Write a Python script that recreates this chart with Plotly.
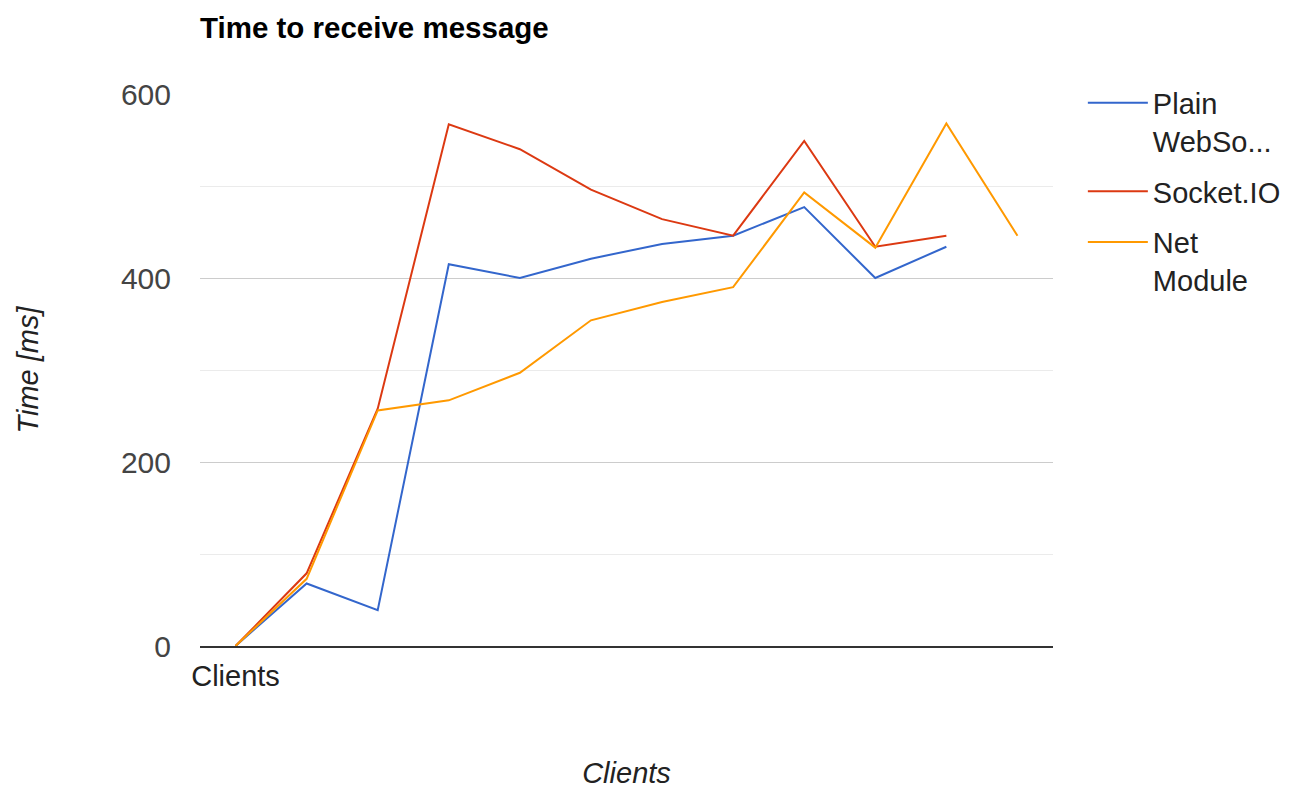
import plotly.graph_objects as go

categories = ["Clients", "", "", "", "", "", "", "", "", "", "", ""]
plain_websocket = [0, 68, 39, 415, 400, 421, 437, 446, 477, 400, 434, None]
socket_io = [0, 79, 258, 567, 540, 496, 464, 446, 549, 434, 446, None]
net_module = [0, 73, 256, 267, 297, 354, 374, 390, 493, 433, 568, 446]
series_names = ["Plain<br>WebSo...", "Socket.IO", "Net<br>Module"]
colors = ["#3366cc", "#dc3912", "#ff9900"]

x = list(range(len(categories)))
FONT = "Liberation Sans, Arial, sans-serif"

fig = go.Figure()
for i, (name, vals, col) in enumerate(zip(series_names, [plain_websocket, socket_io, net_module], colors)):
    fig.add_trace(go.Scatter(x=x, y=vals, mode="lines", name=name, legendgroup=f"g{i}",
                             line=dict(color=col, width=2), connectgaps=False))

fig.update_layout(
    width=1300, height=789,
    margin=dict(l=200, r=247, t=94, b=143, autoexpand=False),
    paper_bgcolor="white", plot_bgcolor="white",
    font=dict(family=FONT, size=29, color="#444"),
    title=dict(text="<b>Time to receive message</b>", x=200/1300, xanchor="left",
               y=1-28/789, yanchor="middle", font=dict(family=FONT, size=29.5, color="#000")),
    showlegend=True,
    legend=dict(x=1.035, xanchor="left", y=1.03, yanchor="top", valign="top",
                font=dict(family=FONT, size=29, color="#222"), itemwidth=60,
                tracegroupgap=10, bgcolor="rgba(0,0,0,0)"),
)
fig.update_xaxes(range=[-0.5, len(categories) - 0.5], tickmode="array", tickvals=[0],
                 ticktext=[categories[0]], showgrid=False, zeroline=False, automargin=False,
                 showline=True, linecolor="#333", linewidth=1.5, ticks="",
                 ticklabelstandoff=3,
                 tickfont=dict(size=29, color="#222"),
                 title=dict(text="<i>Clients</i>", font=dict(size=29, color="#222"), standoff=73))
fig.update_yaxes(range=[0, 600], dtick=200, tick0=0, showgrid=True, gridcolor="#cccccc",
                 gridwidth=1, zeroline=False, ticks="", ticklabelstandoff=28, automargin=False,
                 tickfont=dict(size=30, color="#444"),
                 minor=dict(dtick=100, showgrid=True, gridcolor="#ebebeb", gridwidth=1),
                 title=dict(text="<i>Time [ms]</i>", font=dict(size=29, color="#222"), standoff=73))

fig.write_html("out.html")
